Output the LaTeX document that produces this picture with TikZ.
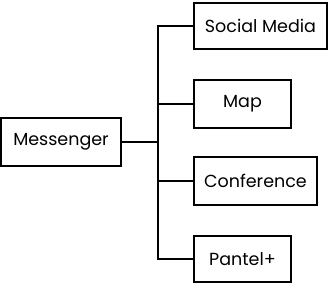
\documentclass[tikz,border=0pt]{standalone}
\usepackage{fontspec}
\setmainfont{Poppins}
\begin{document}
\begin{tikzpicture}[x=1pt,y=-1pt,
  box/.style={draw=black,line width=1.7pt,fill=white,inner sep=0pt,font=\fontsize{17.5}{20}\selectfont},
  link/.style={draw=black,line width=1.7pt}]
\useasboundingbox (0,0) rectangle (329,286);
\node[box,minimum width=120pt,minimum height=48pt] (m) at (61,142) {Messenger};
\node[box,minimum width=133pt,minimum height=46pt] (s) at (260.5,26) {Social Media};
\node[box,minimum width=97pt,minimum height=48pt] (p) at (242.5,104) {Map};
\node[box,minimum width=123pt,minimum height=48pt] (c) at (255.5,181) {Conference};
\node[box,minimum width=97pt,minimum height=46pt] (t) at (242.5,259) {Pantel+};
\coordinate (j) at (158,142);
\draw[link] (m.east) -- (j);
\draw[link] (s.west) -| (j);
\draw[link] (t.west) -| (j);
\draw[link] (p.west) -- (p.west -| j);
\draw[link] (c.west) -- (c.west -| j);
\end{tikzpicture}
\end{document}
